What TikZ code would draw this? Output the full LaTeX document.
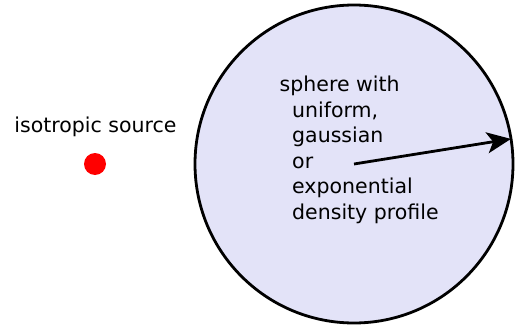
\documentclass[tikz,border=0pt]{standalone}
\usepackage{fontspec}
\setmainfont{DejaVu Sans}
\usetikzlibrary{arrows.meta}
\definecolor{spherefill}{RGB}{227,227,248}
\begin{document}
\begin{tikzpicture}[x=1pt,y=-1pt,
  txt/.style={font=\fontsize{20.5}{24}\selectfont, inner sep=0pt, anchor=base west},
  ln/.style={line width=2.8pt}]
\useasboundingbox (0,0) rectangle (516,329);
% density sphere
\node[circle, draw, ln, fill=spherefill, minimum size=318pt, inner sep=0pt] (sphere) at (354,164) {};
\coordinate (c) at (354,164);
% point source
\node[circle, fill=red, minimum size=22pt, inner sep=0pt] (src) at (95,164) {};
\node[txt, anchor=base] (srclabel) at (95.5,132) {isotropic source};
% description inside the sphere
\node[txt] (l1) at (279.5,91.5) {sphere with};
\node[txt] (l2) at (292,117) {uniform,};
\node[txt] (l3) at (292,142.5) {gaussian};
\node[txt] (l4) at (292,168) {or};
\node[txt] (l5) at (292,193.5) {exponential};
\node[txt] (l6) at (292,219) {density profile};
% radius arrow
\draw[ln, -{Stealth[length=24pt,width=21pt,inset=6pt]}] (c) -- ([shift={(-1.5,0)}]sphere.9);
\end{tikzpicture}
\end{document}
